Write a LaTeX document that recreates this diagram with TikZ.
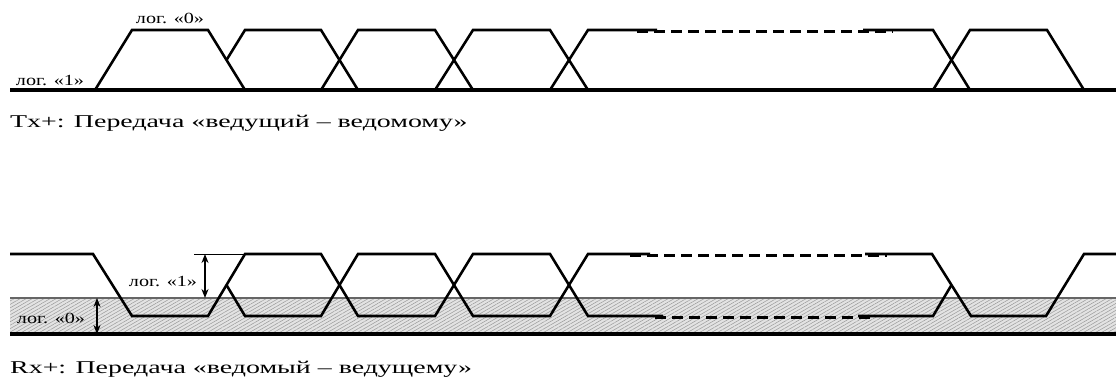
\documentclass[tikz,border=0pt]{standalone}
\usepackage{fontspec}
\setmainfont{Liberation Serif}
\newfontfamily\capfont[FakeStretch=1.55]{Liberation Serif}
\newfontfamily\lblfont[FakeStretch=1.3]{Liberation Serif}
\usetikzlibrary{arrows.meta,patterns.meta}

\begin{document}
\begin{tikzpicture}[x=1pt, y=-1pt,
		wave/.style={line width=0.9mm, line join=miter},
		base/.style={line width=1.1mm},
		gap/.style={line width=0.9mm, dash pattern=on 11pt off 6pt},
		dim/.style={line width=0.7mm, {Stealth[length=9pt,width=7pt]}-{Stealth[length=9pt,width=7pt]}},
		lbl/.style={inner sep=0pt, font=\lblfont\fontsize{15.5}{17}\selectfont},
		caption/.style={inner sep=0pt, anchor=base west, font=\capfont\fontsize{18}{21}\selectfont}]
			%%%%% START %%%%%
			\useasboundingbox (0, 0) rectangle (1116, 383);
			
			%%%%% Tx+ %%%%%
			\draw[base] (10, 90) -- (1116, 90);
			
			\draw[wave] (95, 90) -- (132, 30) -- (208, 30) -- (245, 90);
			\draw[wave] (226.5, 60) -- (245, 30) -- (321, 30) -- (358, 90);
			\draw[wave] (321, 90) -- (358, 30) -- (435, 30) -- (473, 90);
			\draw[wave] (435, 90) -- (473, 30) -- (550, 30) -- (588, 90);
			\draw[wave] (550, 90) -- (588, 30) -- (657, 30);
			\draw[gap] (637, 31.5) -- (893, 31.5);
			\draw[wave] (863, 30) -- (933, 30) -- (970, 90);
			\draw[wave] (933, 90) -- (970, 30) -- (1047, 30) -- (1084, 90);
			
			\node[lbl] (tx0) at (170, 18) {лог. «0»};
			\node[lbl] (tx1) at (50, 80) {лог. «1»};
			\node[caption] (txcap) at (10, 127) {Tx+: Передача «ведущий – ведомому»};
			
			%%%%% Rx+ %%%%%
			\fill[gray!22] (10, 298) rectangle (1116, 334);
			\fill[pattern={Lines[angle=30, distance=3pt, line width=0.5pt]}, pattern color=gray!80] (10, 298) rectangle (1116, 334);
			\draw[line width=0.5mm, color=black!60] (10, 298) -- (1116, 298);
			\draw[base] (10, 334) -- (1116, 334);
			
			\draw[wave] (10, 254) -- (93, 254) -- (132, 316) -- (208, 316) -- (245, 254) -- (321, 254) -- (358, 316) -- (435, 316) -- (473, 254) -- (550, 254) -- (588, 316) -- (663, 316);
			\draw[gap] (655, 317.5) -- (873, 317.5);
			\draw[wave] (858, 316) -- (933, 316) -- (951.5, 285);
			
			\draw[wave] (226.5, 285) -- (245, 316) -- (321, 316) -- (358, 254) -- (435, 254) -- (473, 316) -- (550, 316) -- (588, 254) -- (650, 254);
			\draw[gap] (630, 255.5) -- (887, 255.5);
			\draw[wave] (865, 254) -- (932, 254) -- (971, 316) -- (1046, 316) -- (1084, 254) -- (1116, 254);
			
			\draw[line width=0.3mm] (194, 254) -- (245, 254);
			\draw[dim] (205, 254) -- (205, 298);
			\draw[dim] (97, 298) -- (97, 334);
			
			\node[lbl] (rx1) at (163, 281) {лог. «1»};
			\node[lbl] (rx0) at (51, 318) {лог. «0»};
			\node[caption] (rxcap) at (10, 373) {Rx+: Передача «ведомый – ведущему»};
			
			%%%%% END %%%%%
		\end{tikzpicture}
\end{document}
